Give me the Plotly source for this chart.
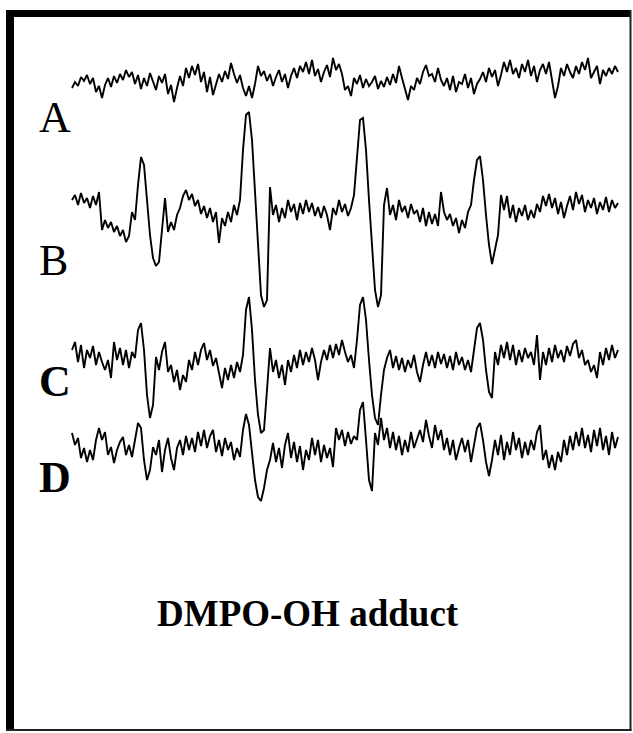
import plotly.graph_objects as go

# EPR spectra (DMPO-OH adduct), intensity vs. field channel (step 3)
channel_step = 3
trace_a = [-8, -2, -6, 3, -1, 5, -4, 2, -12, -6,
           -18, -5, 2, -7, 4, -3, 6, 0, 10, 3,
           8, -4, 5, -9, 2, -6, 7, -2, -10, 4,
           -3, 6, -14, -5, -22, -8, 4, -6, 12, 2,
           14, 5, 16, -2, 8, -12, 3, -15, -4, 6,
           -2, 9, 1, 17, 6, -3, 5, -8, -16, -6,
           -18, -4, 14, 4, 9, -1, 6, -6, 3, 10,
           -2, 6, -8, 4, 12, 2, 14, 8, 18, 6,
           20, 4, 11, -2, 8, 15, 3, 22, 10, 16,
           6, -10, -6, -16, 2, -4, 5, -8, 1, -6,
           -2, 4, -9, -1, -7, 3, -5, 6, -3, 14,
           2, -8, -20, -6, -10, 2, -4, 8, 15, 4,
           6, -2, 12, 0, -6, 2, -10, 4, -12, -2,
           -4, 6, -8, 2, -14, -4, 1, 8, -2, 12,
           3, 10, -6, 5, 18, 8, 20, 6, 12, 2,
           16, 8, 20, 4, 14, -2, 10, 16, 6, 18,
           2, -18, -6, 12, 4, 16, 8, 2, 14, 6,
           18, 10, 22, 2, 8, 14, -4, 10, 4, 12,
           6, 14, 8]
trace_b = [5, 10, 0, 12, 2, 7, -3, 9, 0, 13,
           -25, -15, -23, -17, -27, -21, -31, -25, -37, -31,
           -7, -15, 20, 48, 40, 0, -30, -53, -61, -57,
           -27, 7, -27, -17, -25, -10, -3, 9, 15, 5,
           11, -1, 5, -9, -1, -13, -3, -17, -7, -38,
           -13, -21, -7, -17, 0, -10, 5, 55, 90, 93,
           65, 10, -45, -90, -102, -95, 18, -10, 0, -17,
           -3, -13, 5, -7, 1, -15, 2, -9, 5, -7,
           2, -11, -2, -13, -1, -10, -25, -3, -10, 5,
           -7, 1, -11, -3, 10, 45, 85, 87, 55, 5,
           -45, -85, -102, -90, 0, 17, -10, 0, -15, 5,
           -7, -1, -13, 1, -9, -5, -17, -3, -21, -7,
           -19, -9, -21, 13, -7, -15, -9, -21, -13, -28,
           -15, -23, -7, 0, 25, 45, 49, 25, -10, -40,
           -59, -45, -30, 10, -5, 9, -13, 0, -17, -3,
           -11, 0, -15, -5, -13, 1, -7, 9, -1, 11,
           -3, 7, -9, 3, -13, -1, 9, -5, 13, 1,
           10, -7, 5, -3, 7, -9, 3, -5, 8, -7,
           5, -3, 2]
trace_c = [5, 13, -7, 10, -13, 5, -3, 9, -10, 3,
           -7, -15, -5, -23, 13, -5, 7, -10, 5, -13,
           3, -3, 25, 32, 5, -40, -63, -50, -2, -15,
           3, 13, -17, -10, -27, -15, -35, -20, -27, -5,
           -15, 3, -10, 5, 12, -5, 5, -11, -3, -20,
           -33, -13, -25, -10, -23, -7, -17, 0, 45, 58,
           25, -25, -60, -78, -75, -35, 7, -17, -5, -23,
           -10, -30, -5, -17, 0, -13, 5, -10, 3, -7,
           7, -5, -25, -7, 5, -5, 10, -3, 11, 0,
           15, 3, -7, 0, -13, 15, 50, 58, 35, -5,
           -40, -63, -70, -40, -15, -3, 5, -13, -1, -15,
           -3, -17, -5, -13, 0, -17, -27, -10, 3, -11,
           0, -13, 3, -9, 1, -13, -1, -15, 3, -10,
           -2, -15, -5, -17, 5, 27, 32, 15, -15, -37,
           -43, 3, -10, 10, -3, 13, -5, 10, -10, 5,
           -7, 7, -3, 3, -10, 20, -25, 3, -10, 7,
           -7, 10, -3, 5, -7, 9, -1, 11, 15, -3,
           5, -10, -5, -17, -10, -23, 3, -10, 7, -5,
           10, -3, 5]
trace_d = [12, 0, 7, -13, -3, -17, -5, -15, 5, 17,
           5, 13, -10, -2, -18, -5, 3, 8, -10, 0,
           -12, 7, 22, 17, -15, -35, -25, -2, -10, 5,
           -27, -5, 7, -13, -25, -3, 5, -10, 9, -5,
           7, -7, 13, -1, 15, -3, 9, 15, -7, 5,
           -11, 7, -5, 3, -15, -3, -12, 15, 31, 20,
           -10, -35, -52, -56, -43, -25, -15, 2, -17, -3,
           -23, 0, 12, -13, 3, -17, -1, -25, -5, -15,
           7, -10, 5, -17, 0, -13, -3, -22, 17, 5,
           15, -1, 13, 1, 9, 5, 35, 43, 5, -35,
           -46, 12, 0, 27, 5, 17, -3, 13, -5, 9,
           -10, 5, -7, 13, -3, 5, 15, 3, 25, 9,
           -3, 20, 5, 15, -5, 7, -10, 5, -15, -3,
           7, -7, 5, -17, 0, 17, 22, 5, -17, -31,
           -15, 5, -10, 10, -15, 3, -10, 13, -5, 7,
           -13, 3, -10, 5, -5, 13, 20, -15, -5, -23,
           -10, -25, -7, -17, 5, -10, 9, -5, 13, -1,
           17, -3, 10, -7, 15, -1, 17, -5, 9, -10,
           13, -3, 8]
labels = ["A", "B", "C", "D"]
label_bold = [False, False, True, True]
title_text = "DMPO-OH adduct"

W, H = 633, 733
series = [trace_a, trace_b, trace_c, trace_d]
offsets = [0, -125, -275, -365]
fig = go.Figure()
for vals, off in zip(series, offsets):
    xs = [i * channel_step for i in range(len(vals))]
    fig.add_trace(go.Scatter(x=xs, y=[v + off for v in vals], mode="lines",
                             line=dict(color="black", width=1.9),
                             hoverinfo="skip", showlegend=False))

def px(x):
    return x / W

def py(y):
    return 1 - y / H

shapes = [
    dict(type="rect", xref="paper", yref="paper", x0=px(6), x1=px(14), y0=py(731), y1=py(10),
         fillcolor="black", line_width=0),
    dict(type="rect", xref="paper", yref="paper", x0=px(6), x1=px(631), y0=py(17), y1=py(10),
         fillcolor="black", line_width=0),
    dict(type="rect", xref="paper", yref="paper", x0=px(629.5), x1=px(631.5), y0=py(731), y1=py(10),
         fillcolor="#222", line_width=0),
    dict(type="rect", xref="paper", yref="paper", x0=px(6), x1=px(631.5), y0=py(731), y1=py(729),
         fillcolor="#222", line_width=0),
]
label_pos = [(55, 117.5), (53, 260), (55, 381), (55, 477.5)]
annotations = []
for lab, bold, (lx, ly) in zip(labels, label_bold, label_pos):
    annotations.append(dict(text=f"<b>{lab}</b>" if bold else lab, xref="paper", yref="paper",
                            x=px(lx), y=py(ly), xanchor="center", yanchor="middle", showarrow=False,
                            font=dict(family="Liberation Serif", size=44, color="black")))
annotations.append(dict(text=f"<b>{title_text}</b>", xref="paper", yref="paper",
                        x=px(308), y=py(613), xanchor="center", yanchor="middle", showarrow=False,
                        font=dict(family="Liberation Serif", size=37, color="black")))

fig.update_layout(
    width=W, height=H, margin=dict(l=0, r=0, t=0, b=0),
    paper_bgcolor="white", plot_bgcolor="white",
    xaxis=dict(range=[-72, W - 72], visible=False, fixedrange=True),
    yaxis=dict(range=[80 - H, 80], visible=False, fixedrange=True),
    shapes=shapes, annotations=annotations,
)
fig.write_html("out.html", config={"displayModeBar": False},
               post_script="document.body.style.margin='0';document.body.style.overflow='hidden';")
